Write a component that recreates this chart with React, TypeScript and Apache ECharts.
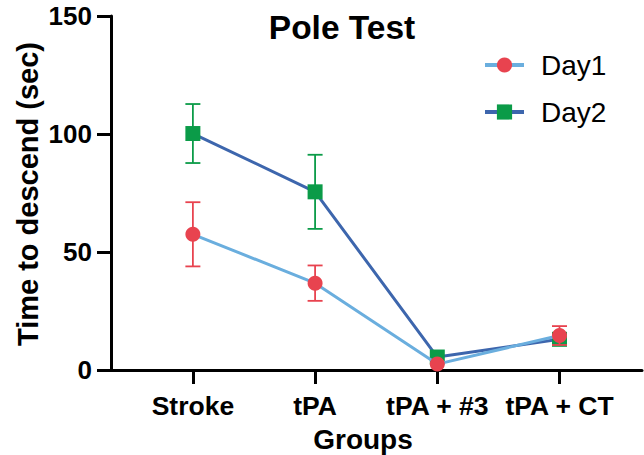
import React, { useEffect, useRef } from "react";
import * as echarts from "echarts";

const categories = ["Stroke", "tPA", "tPA + #3", "tPA + CT"];
const day1Mean = [57.5, 36.8, 2.5, 14.6];
const day1Err = [13.6, 7.5, 0, 4.0];
const day2Mean = [100.2, 75.5, 5.5, 13.0];
const day2Err = [12.5, 15.7, 0, 0];
const yTicks = [0, 50, 100, 150];

const FONT = "'Liberation Sans', Arial, sans-serif";
const D1_LINE = "#6aaede";
const D1_MARK = "#e8434f";
const D2_LINE = "#3d66ad";
const D2_MARK = "#0b9b48";

function errData(mean: number[], err: number[]) {
  return mean.map((m, i) => [i, m - err[i], m + err[i]]);
}

function errSeries(name: string, mean: number[], err: number[], color: string, z: number) {
  return {
    type: "custom",
    name: name + " err",
    z,
    silent: true,
    data: errData(mean, err).filter((d) => d[2] - d[1] > 0.01),
    encode: { x: 0, y: [1, 2] },
    renderItem: (params: any, api: any) => {
      const x = api.value(0);
      const lo = api.coord([x, api.value(1)]);
      const hi = api.coord([x, api.value(2)]);
      const hw = 7.5;
      const style = { stroke: color, lineWidth: 1.8, fill: "none" };
      return {
        type: "group",
        children: [
          { type: "line", shape: { x1: lo[0], y1: lo[1], x2: hi[0], y2: hi[1] }, style },
          { type: "line", shape: { x1: lo[0] - hw, y1: lo[1], x2: lo[0] + hw, y2: lo[1] }, style },
          { type: "line", shape: { x1: hi[0] - hw, y1: hi[1], x2: hi[0] + hw, y2: hi[1] }, style },
        ],
      };
    },
  };
}

export default function App() {
  const ref = useRef<HTMLDivElement>(null);
  useEffect(() => {
    if (!ref.current) return;
    const chart = echarts.init(ref.current, undefined, { renderer: "svg" });
    chart.setOption({
      animation: false,
      backgroundColor: "#ffffff",
      grid: { left: 111, right: 2, top: 16, bottom: 85, containLabel: false },
      xAxis: {
        type: "value",
        min: -0.67,
        max: 3.675,
        splitLine: { show: false },
        axisLine: { show: true, onZero: false, lineStyle: { color: "#000", width: 3 } },
        axisTick: { show: true, customValues: [0, 1, 2, 3], length: 14, lineStyle: { color: "#000", width: 3 } },
        axisLabel: {
          customValues: [0, 1, 2, 3],
          formatter: (v: number) => categories[Math.round(v)] ?? "",
          margin: 22,
          color: "#000",
          fontFamily: FONT,
          fontWeight: "bold",
          fontSize: 26.5,
        },
      },
      yAxis: {
        type: "value",
        min: 0,
        max: 150,
        interval: 50,
        splitLine: { show: false },
        axisLine: { show: true, onZero: false, lineStyle: { color: "#000", width: 3 } },
        axisTick: { show: true, length: 14, lineStyle: { color: "#000", width: 3 } },
        axisLabel: {
          margin: 19,
          color: "#000",
          fontFamily: FONT,
          fontWeight: "bold",
          fontSize: 26,
          formatter: (v: number) => (yTicks.includes(v) ? String(v) : ""),
        },
      },
      legend: {
        orient: "vertical",
        left: 478,
        top: 45,
        itemWidth: 39,
        itemHeight: 19,
        itemGap: 17,
        data: ["Day1", "Day2"],
        lineStyle: { width: 4 },
        textStyle: { fontFamily: FONT, fontSize: 28, color: "#000", lineHeight: 30, padding: [0, 0, 0, 12] },
      },
      graphic: [
        {
          type: "text",
          x: 342,
          y: 27,
          style: { text: "Pole Test", fontFamily: FONT, fontWeight: "bold", fontSize: 33.5, fill: "#000", align: "center", verticalAlign: "middle" },
        },
        {
          type: "text",
          x: 363,
          y: 439,
          style: { text: "Groups", fontFamily: FONT, fontWeight: "bold", fontSize: 28, fill: "#000", align: "center", verticalAlign: "middle" },
        },
        {
          type: "text",
          x: 28,
          y: 194,
          rotation: Math.PI / 2,
          style: { text: "Time to descend (sec)", fontFamily: FONT, fontWeight: "bold", fontSize: 29, fill: "#000", align: "center", verticalAlign: "middle" },
        },
      ],
      series: [
        errSeries("Day2", day2Mean, day2Err, D2_MARK, 2),
        {
          type: "line",
          name: "Day2",
          z: 3,
          data: day2Mean.map((v, i) => [i, v]),
          symbol: "rect",
          symbolSize: 15,
          lineStyle: { color: D2_LINE, width: 3 },
          itemStyle: { color: D2_MARK },
        },
        errSeries("Day1", day1Mean, day1Err, D1_MARK, 4),
        {
          type: "line",
          name: "Day1",
          z: 5,
          data: day1Mean.map((v, i) => [i, v]),
          symbol: "circle",
          symbolSize: 15,
          lineStyle: { color: D1_LINE, width: 3 },
          itemStyle: { color: D1_MARK },
        },
      ],
    });
    return () => chart.dispose();
  }, []);
  return <div ref={ref} style={{ width: 644, height: 455, position: "absolute", left: 0, top: 0 }} />;
}
